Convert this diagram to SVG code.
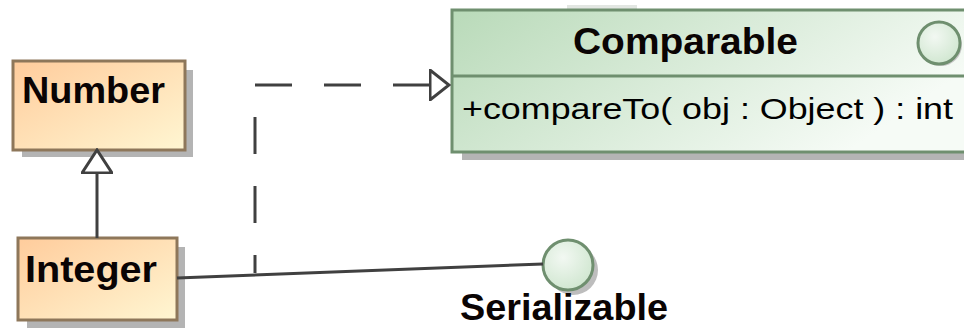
<svg xmlns="http://www.w3.org/2000/svg" width="964" height="328" viewBox="0 0 964 328">
  <defs>
    <linearGradient id="classFill" x1="0" y1="0" x2="1" y2="1">
      <stop offset="0" stop-color="#FFCC9C"/>
      <stop offset="1" stop-color="#FFF6D2"/>
    </linearGradient>
    <linearGradient id="ifaceFill" x1="0" y1="0" x2="1" y2="0.4">
      <stop offset="0" stop-color="#B9DAB9"/>
      <stop offset="1" stop-color="#F6FBF6"/>
    </linearGradient>
    <radialGradient id="lollipopFill" cx="0.4" cy="0.35" r="0.7">
      <stop offset="0" stop-color="#F2F8F2"/>
      <stop offset="1" stop-color="#CFE6CF"/>
    </radialGradient>
    <!-- hollow triangle for interface realization -->
    <marker id="realize" viewBox="0 0 22 32" refX="20" refY="16" markerWidth="22" markerHeight="32" markerUnits="userSpaceOnUse" orient="auto">
      <path d="M1,1 L20,16 L1,31 Z" fill="#FFFFFF" stroke="#404040" stroke-width="3"/>
    </marker>
    <!-- hollow triangle for generalization -->
    <marker id="generalize" viewBox="0 0 26 32" refX="24" refY="16" markerWidth="26" markerHeight="32" markerUnits="userSpaceOnUse" orient="auto">
      <path d="M1,1 L24,16 L1,31 Z" fill="#FFFFFF" stroke="#404040" stroke-width="3"/>
    </marker>
  </defs>
  <style>
    .shadow { fill: #B4B4B4; }
    .cls { fill: url(#classFill); stroke: #8E775A; stroke-width: 3; }
    .iface { fill: url(#ifaceFill); stroke: #6F8F6F; stroke-width: 3; }
    .lolli { fill: url(#lollipopFill); stroke: #6F8F6F; stroke-width: 3; }
    .name { font-family: "Liberation Sans", Arial, sans-serif; font-weight: bold; font-size: 36px; fill: #0A0404; }
    .member { font-family: "Liberation Sans", Arial, sans-serif; font-size: 30px; fill: #000000; }
    .edge { fill: none; stroke: #404040; stroke-width: 3; }
  </style>

  <!-- Number class -->
  <g id="Number">
    <rect class="shadow" x="22" y="70" width="171" height="87"/>
    <rect class="cls" x="13" y="61" width="172" height="89"/>
    <text class="name" x="22" y="103" textLength="143" lengthAdjust="spacingAndGlyphs">Number</text>
  </g>

  <!-- Integer class -->
  <g id="Integer">
    <rect class="shadow" x="27" y="247" width="158" height="81"/>
    <rect class="cls" x="18" y="238" width="159" height="82"/>
    <text class="name" x="25" y="282" textLength="132" lengthAdjust="spacingAndGlyphs">Integer</text>
  </g>

  <!-- Comparable interface -->
  <g id="Comparable">
    <rect x="567" y="5" width="70" height="6" fill="#E2E6E2"/>
    <rect class="shadow" x="462" y="20" width="510" height="140"/>
    <rect class="iface" x="452" y="10" width="520" height="142"/>
    <line x1="452" y1="76" x2="972" y2="76" stroke="#6F8F6F" stroke-width="3"/>
    <circle cx="941" cy="45" r="21" fill="#C8C8C8"/>
    <circle class="lolli" cx="939" cy="43" r="21"/>
    <text class="name" x="573" y="54" textLength="225" lengthAdjust="spacingAndGlyphs">Comparable</text>
    <text class="member" x="462" y="119" textLength="491" lengthAdjust="spacingAndGlyphs">+compareTo( obj : Object ) : int</text>
  </g>

  <!-- Serializable interface (lollipop) -->
  <g id="Serializable">
    <circle cx="573" cy="270" r="25" fill="#BDBDBD"/>
    <circle class="lolli" cx="568" cy="265" r="25"/>
    <text class="name" x="460" y="320" font-size="35" textLength="208" lengthAdjust="spacingAndGlyphs">Serializable</text>
  </g>

  <!-- Connectors -->
  <g id="connectors">
    <line class="edge" x1="97" y1="238" x2="97" y2="150" marker-end="url(#generalize)"/>
    <line class="edge" x1="177" y1="278" x2="543" y2="264"/>
    <path class="edge" d="M255,273 L255,85 L449,85" stroke-dasharray="18 32 37 32 37 32 37 32 37 32 37 32 37" marker-end="url(#realize)"/>
  </g>
</svg>
